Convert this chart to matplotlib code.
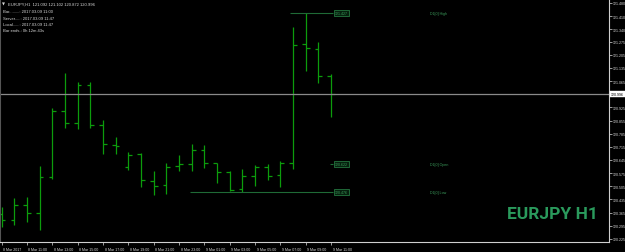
import numpy as np
import matplotlib.pyplot as plt
import matplotlib.transforms as mtransforms

plt.rcParams['font.family'] = ['Liberation Sans', 'DejaVu Sans']

# ---------------- data (EURJPY H1) ----------------
bar_open = [120.358, 120.324, 120.407, 120.361, 120.554, 120.904, 120.842, 121.044,
            120.833, 120.726, 120.606, 120.675, 120.535, 120.510, 120.611, 120.622,
            120.697, 120.627, 120.580, 120.489, 120.558, 120.609, 120.564, 120.627,
            121.260, 121.235, 121.092]
bar_high = [120.393, 120.441, 120.446, 120.611, 120.921, 121.108, 121.058, 121.058,
            120.859, 120.769, 120.686, 120.681, 120.588, 120.627, 120.672, 120.728,
            120.725, 120.631, 120.588, 120.599, 120.620, 120.624, 120.640, 121.351,
            121.427, 121.273, 121.102]
bar_low = [120.289, 120.299, 120.313, 120.274, 120.544, 120.814, 120.810, 120.814,
           120.677, 120.677, 120.593, 120.503, 120.460, 120.464, 120.585, 120.586,
           120.601, 120.521, 120.478, 120.476, 120.505, 120.540, 120.503, 120.597,
           121.120, 121.056, 120.872]
bar_close = [120.327, 120.407, 120.361, 120.554, 120.904, 120.842, 121.044, 120.833,
             120.730, 120.718, 120.672, 120.539, 120.508, 120.609, 120.625, 120.697,
             120.627, 120.580, 120.485, 120.558, 120.609, 120.558, 120.627, 121.255,
             121.239, 121.092, 120.996]

day_start = 15  # first H1 bar of 9 Mar

x_labels = ["8 Mar 2017", "8 Mar 11:00", "8 Mar 13:00", "8 Mar 15:00", "8 Mar 17:00",
            "8 Mar 19:00", "8 Mar 21:00", "8 Mar 23:00", "9 Mar 01:00", "9 Mar 03:00",
            "9 Mar 05:00", "9 Mar 07:00", "9 Mar 09:00", "9 Mar 11:00"]
y_ticks = [121.480, 121.410, 121.340, 121.275, 121.205, 121.135, 121.065,
           120.925, 120.855, 120.785, 120.715, 120.645, 120.575, 120.505,
           120.435, 120.365, 120.295, 120.225]

info_lines = ["Bar.........: 2017.03.09 11:00",
              "Server.....: 2017.03.09 11:47",
              "Local......: 2017.03.09 11:47",
              "Bar ends.: 0h 12m 43s"]

# ---------------- figure ----------------
BAR_C = '#0c9c0c'
LEVEL_C = '#1f6a36'
TXT_C = '#3a9a5a'
AX_TXT = '#d8d8d8'
FS = 2.6

fig = plt.figure(figsize=(6.25, 2.53), dpi=100, facecolor='black')
ax = fig.add_axes([0, 10 / 253, 609 / 625, 243 / 253], facecolor='black')

n = len(bar_close)
idx = np.arange(n)
ax.vlines(idx, bar_low, bar_high, color=BAR_C, lw=0.9)
ax.hlines(bar_open, idx - 0.3, idx, color=BAR_C, lw=0.9)
ax.hlines(bar_close, idx, idx + 0.3, color=BAR_C, lw=0.9)

ax.set_xlim(-0.13, 47.93)
ax.set_ylim(120.209, 121.501)

# current price line
last = bar_close[-1]
ax.axhline(last, color='#8a8a8a', lw=0.9)

# D1 levels
d1_high = max(bar_high[day_start:])
d1_low = min(bar_low[day_start:])
d1_open = bar_open[day_start]
levels = [(d1_high, 22.75, "D1[0] High"),
          (d1_open, 25.9, "D1[0] Open"),
          (d1_low, 14.85, "D1[0] Low")]
for val, x0, name in levels:
    ax.hlines(val, x0, 26.15, color=LEVEL_C, lw=0.8)
    ax.text(26.3, val, f"{val:.3f}", fontsize=FS, color=TXT_C, va='center', ha='left',
            bbox=dict(boxstyle='square,pad=0.3', fc='#06200e', ec='#2a8a4a', lw=0.5))
    ax.text(33.8, val, name, fontsize=FS, color=TXT_C, va='center', ha='left')

# spines / axes
ax.spines['top'].set_visible(False)
ax.spines['right'].set_color('#cfcfcf')
ax.spines['bottom'].set_color('#cfcfcf')
ax.spines['left'].set_color('#555555')
ax.spines['left'].set_linewidth(1.5)

ax.yaxis.tick_right()
ax.set_yticks(y_ticks)
ax.set_yticklabels([f"{v:.3f}" for v in y_ticks])
ax.tick_params(axis='y', colors=AX_TXT, labelsize=FS, length=2, width=0.5, pad=1)

ax.set_xticks(np.arange(0, n, 2))
ax.set_xticklabels(x_labels)
ax.tick_params(axis='x', colors=AX_TXT, labelsize=FS, length=2.5, width=0.5, pad=1)
offset = mtransforms.ScaledTranslation(1.5 / 100, 0, fig.dpi_scale_trans)
for lbl in ax.get_xticklabels():
    lbl.set_horizontalalignment('left')
    lbl.set_transform(lbl.get_transform() + offset)

# current price tag on the axis
trans = mtransforms.blended_transform_factory(ax.transAxes, ax.transData)
ax.text(1.003, last, f"{last:.3f}", transform=trans, fontsize=FS, color='black',
        va='center', ha='left',
        bbox=dict(boxstyle='square,pad=0.25', fc='white', ec='white', lw=0.3))

# header + info block
fig.text(2 / 625, 1 - 5 / 253, "▼", fontsize=2.8, color=AX_TXT, va='center',
         family=['DejaVu Sans'])
fig.text(8 / 625, 1 - 5 / 253,
         f"EURJPY,H1  {bar_open[-1]:.3f} {bar_high[-1]:.3f} {bar_low[-1]:.3f} {last:.3f}",
         fontsize=3.0, color=AX_TXT, va='center')
for k, line in enumerate(info_lines):
    fig.text(3 / 625, 1 - (12 + 6.5 * k) / 253, line, fontsize=3.0, color=AX_TXT, va='center')

# symbol watermark
fig.text(552 / 625, 1 - 215 / 253, "EURJPY H1", fontsize=12.5, fontweight='bold',
         family=['Roboto', 'DejaVu Sans'], color='#2a9a5c',
         ha='center', va='center')

fig.savefig('out.png', dpi=100, facecolor='black')
